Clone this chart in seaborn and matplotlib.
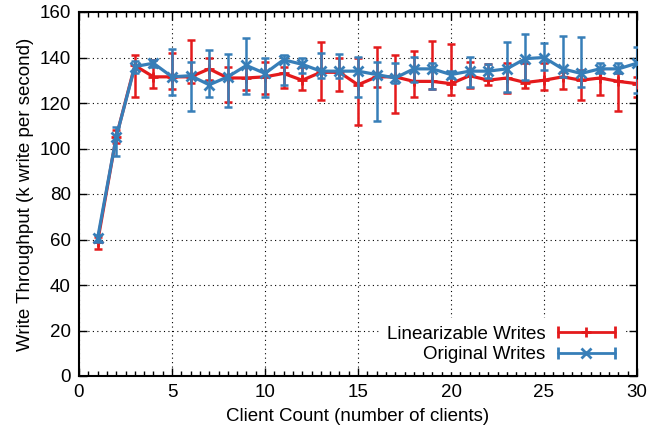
import numpy as np
import pandas as pd
import matplotlib
matplotlib.use("Agg")
import matplotlib.pyplot as plt
import seaborn as sns
from matplotlib.lines import Line2D
from matplotlib.legend_handler import HandlerLine2D, HandlerTuple
from matplotlib.ticker import MultipleLocator


# data
clients = list(range(1, 31))

lin_mean = [59, 105, 136.5, 131.5, 131.5, 131.5, 135, 131, 131, 131.5,
            133, 130, 133.5, 133.5, 128, 131.5, 131.5, 129.5, 129.5, 128.5,
            132, 130, 131, 129, 130, 131.5, 130, 131, 129.5, 128.5]
lin_lo = [56, 102.5, 122.5, 126.5, 126, 128.7, 130, 120.5, 125.7, 124,
          126.5, 125.5, 121.5, 125.3, 110.3, 127.2, 115.5, 122.6, 126, 123.5,
          126.4, 128, 124.2, 126.6, 125.7, 126, 121.3, 123.5, 116.4, 122.8]
lin_hi = [61, 108, 141, 139, 142, 147.7, 140, 136, 136, 138,
          136, 136, 147, 139.6, 139.6, 144.7, 141, 143, 147.4, 145.8,
          138, 137, 137.4, 137.4, 137.4, 133.8, 134.5, 135, 133, 131.6]

orig_mean = [60.5, 105, 136, 137.5, 131.5, 132, 128, 131.5, 136.5, 133,
             139, 137, 134, 134, 134, 132.5, 131, 135, 135, 132.5,
             134, 134, 135, 139.5, 140, 135, 133, 135, 135, 137.5]
orig_lo = [59, 96.5, 133, 136, 123.5, 116.6, 122.6, 118.4, 124, 122.8,
           128, 133, 131, 130.8, 122.5, 112.2, 128.6, 129.3, 126, 131,
           127, 131, 125, 130, 134.5, 131.6, 127, 133, 133, 124.2]
orig_hi = [62, 109.6, 138.5, 139, 143.7, 138, 143.3, 141.5, 148.5, 140,
           141, 140, 142, 141.6, 140.4, 137.9, 137.4, 140.3, 137.6, 134,
           140.4, 137, 147, 150.2, 146.5, 149.5, 149, 137.4, 137.4, 144.7]

RED = "#e41a1c"
BLUE = "#377eb8"
FS = 13.5


sns.set_style("ticks")
plt.rcParams["font.family"] = ["Liberation Sans", "DejaVu Sans"]
plt.rcParams["font.size"] = FS
plt.rcParams["text.color"] = "black"
plt.rcParams["axes.labelcolor"] = "black"
plt.rcParams["xtick.color"] = "black"
plt.rcParams["ytick.color"] = "black"


fig = plt.figure(figsize=(6.72, 4.34), dpi=100)
ax = fig.add_axes([79 / 672, 1 - 376 / 434, (637 - 79) / 672, (376 - 12) / 434])


series = [
    ("Linearizable Writes", lin_mean, lin_lo, lin_hi, RED, "+", 2),
    ("Original Writes", orig_mean, orig_lo, orig_hi, BLUE, "x", 4),
]

for name, mean, lo, hi, color, marker, z in series:
    df = pd.DataFrame({"clients": clients, "throughput": mean})
    mean_arr = np.array(mean)
    yerr = [mean_arr - np.array(lo), np.array(hi) - mean_arr]
    ax.errorbar(
        clients, mean, yerr=yerr,
        fmt="none", ecolor=color, elinewidth=1.8,
        capsize=3.2, capthick=1.8, zorder=z
    )
    sns.lineplot(
        data=df, x="clients", y="throughput",
        color=color, linewidth=2.3,
        marker=marker, markersize=7, markeredgewidth=2,
        markeredgecolor=color,
        ax=ax, zorder=z + 1
    )


ax.set_xlim(0, 30)
ax.set_ylim(0, 160)
ax.xaxis.set_major_locator(MultipleLocator(5))
ax.xaxis.set_minor_locator(MultipleLocator(0.5))
ax.yaxis.set_major_locator(MultipleLocator(20))

ax.grid(True, which="major", color="black", linestyle=(0, (1, 3)), linewidth=0.8)
ax.set_axisbelow(True)

ax.tick_params(which="both", direction="in", top=True, right=True, colors="black",
               labelsize=FS)
ax.tick_params(which="major", length=6, width=1, pad=6)
ax.tick_params(which="minor", length=3.5, width=1)

for sp in ax.spines.values():
    sp.set_linewidth(1.5)
    sp.set_color("black")

ax.set_xlabel("Client Count (number of clients)", fontsize=FS, labelpad=5)
ax.set_ylabel("Write Throughput (k write per second)", fontsize=FS, labelpad=4)


# legend in gnuplot style: line with end caps, marker in the middle
red_caps = Line2D([], [], color=RED, lw=2, marker="|", markersize=8, markeredgewidth=2)
red_mid = Line2D([], [], color=RED, lw=0, marker="+", markersize=7, markeredgewidth=2)
blue_caps = Line2D([], [], color=BLUE, lw=2, marker="|", markersize=8, markeredgewidth=2)
blue_mid = Line2D([], [], color=BLUE, lw=0, marker="x", markersize=7, markeredgewidth=2)

hmap = {
    red_caps: HandlerLine2D(numpoints=2, marker_pad=0.0),
    blue_caps: HandlerLine2D(numpoints=2, marker_pad=0.0),
    red_mid: HandlerLine2D(numpoints=1),
    blue_mid: HandlerLine2D(numpoints=1),
}

leg = ax.legend(
    [(red_caps, red_mid), (blue_caps, blue_mid)],
    ["Linearizable Writes", "Original Writes"],
    handler_map={tuple: HandlerTuple(ndivide=1, pad=0), **hmap},
    loc="lower right", bbox_to_anchor=(0.99, -0.012),
    markerfirst=False, frameon=True, fancybox=False,
    handlelength=3.0, handletextpad=0.7, labelspacing=0.2,
    borderpad=0.4, fontsize=FS
)
leg.get_frame().set_facecolor("white")
leg.get_frame().set_edgecolor("white")
leg.get_frame().set_alpha(1)
leg.set_zorder(10)


fig.savefig("out.png", dpi=100)
plt.close(fig)
